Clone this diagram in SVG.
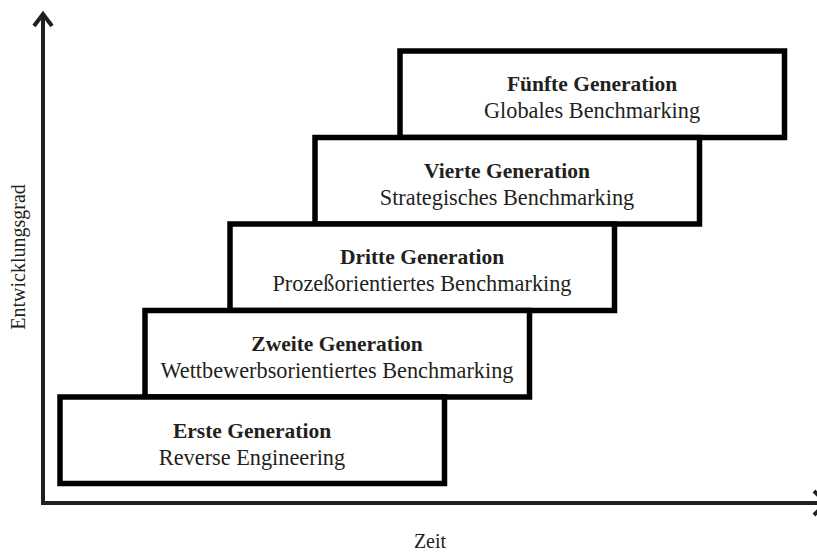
<svg xmlns="http://www.w3.org/2000/svg" width="817" height="553" viewBox="0 0 817 553">
<style>
.box{fill:#fff;stroke:#000;stroke-width:5.5}
.ax{fill:none;stroke:#231f20;stroke-width:4}
.t{font-family:"Liberation Serif","Times New Roman",serif;fill:#231f20;text-anchor:middle}
.b{font-weight:bold;font-size:21.5px}
.r{font-size:22.3px}
.lab{font-size:20px}
</style>
<g id="connectors">
<path class="ax" d="M43,14 V503 H817"/>
<path class="ax" d="M34,26 L43,14 L52,26"/>
<path class="ax" d="M814,491 L826,503 L814,515"/>
</g>
<g id="axis-y"><text class="t lab" transform="translate(25,257) rotate(-90)">Entwicklungsgrad</text></g>
<g id="axis-x"><text class="t lab" x="430" y="548">Zeit</text></g>
<g id="gen5">
<rect class="box" x="400" y="51" width="384.5" height="86.5"/>
<text class="t b" x="592" y="91">Fünfte Generation</text>
<text class="t r" x="592" y="118">Globales Benchmarking</text>
</g>
<g id="gen4">
<rect class="box" x="315" y="137.5" width="384.5" height="86.5"/>
<text class="t b" x="507" y="177.5">Vierte Generation</text>
<text class="t r" x="507" y="204.5">Strategisches Benchmarking</text>
</g>
<g id="gen3">
<rect class="box" x="230" y="224" width="384.5" height="86.5"/>
<text class="t b" x="422" y="264">Dritte Generation</text>
<text class="t r" x="422" y="291">Prozeßorientiertes Benchmarking</text>
</g>
<g id="gen2">
<rect class="box" x="145" y="310.5" width="384.5" height="86.5"/>
<text class="t b" x="337" y="350.5">Zweite Generation</text>
<text class="t r" x="337" y="377.5">Wettbewerbsorientiertes Benchmarking</text>
</g>
<g id="gen1">
<rect class="box" x="60" y="397" width="384.5" height="86.5"/>
<text class="t b" x="252" y="437.5">Erste Generation</text>
<text class="t r" x="252" y="464.5">Reverse Engineering</text>
</g>
</svg>
